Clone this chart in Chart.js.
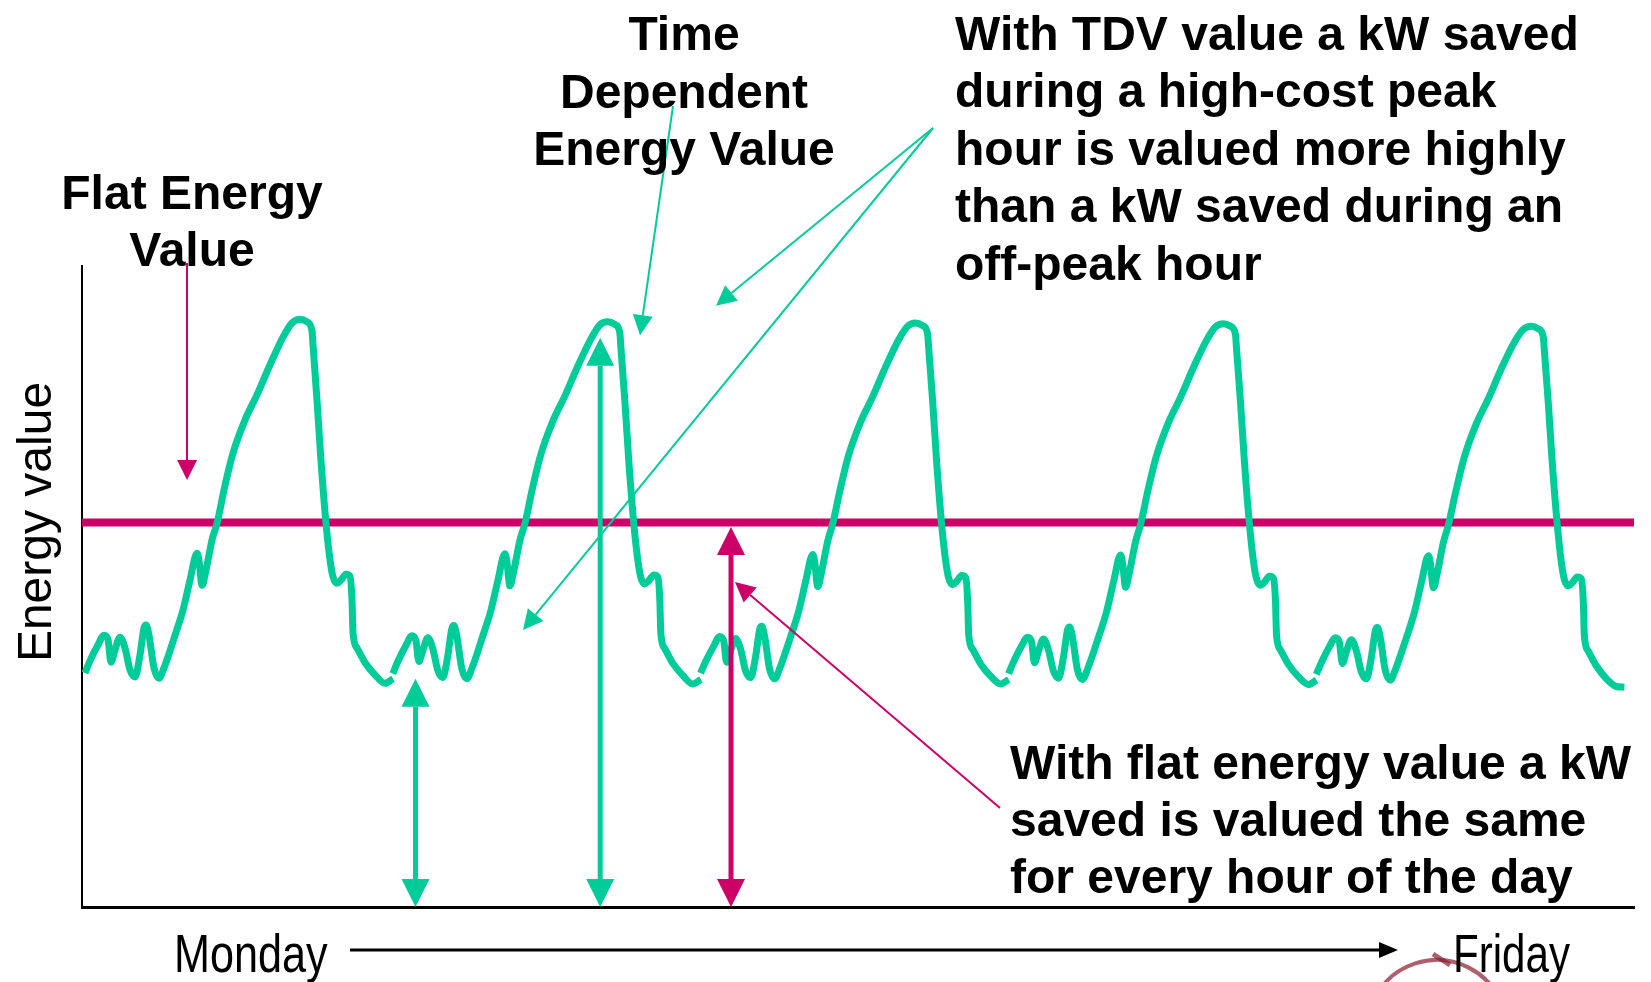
<!DOCTYPE html>
<html>
<head>
<meta charset="utf-8">
<script src="https://cdn.jsdelivr.net/npm/chart.js@4.4.0/dist/chart.umd.min.js"></script>
<style>
  html, body { margin: 0; padding: 0; background: #ffffff; }
  #wrap { width: 1651px; height: 982px; position: relative; }
</style>
</head>
<body>
<div id="wrap"><canvas id="c" width="1651" height="982"></canvas></div>
<script>
// ---------------- DATA ----------------
// hour-of-day sample positions (shared by all days)
const hourOfDay = [0.23,0.62,1.25,1.72,2.03,2.26,2.57,2.96,3.35,3.74,4.13,4.52,4.83,4.99,5.22,5.61,6.00,6.39,7.25,7.87,8.42,8.97,9.12,9.36,9.67,10.14,10.53,11.15,11.77,12.71,13.64,14.66,15.67,16.37,17.00,17.54,17.93,18.01,18.32,18.63,19.02,19.34,19.57,19.88,20.19,20.58,20.89,21.05,21.13,21.44,22.07,22.85,23.62,24.25];
const dayStart = [0, 24, 48, 72, 96];
const dayNames = ["Monday", "Friday"];
// time dependent energy value, one array per day
const tdvMonday    = [36.5,38.4,40.9,42.4,41.7,38.2,40.1,42.1,40.4,37.0,35.9,39.3,43.5,44.0,42.4,37.3,35.7,37.3,42.4,46.3,51.0,55.2,54.1,50.2,52.6,57.3,59.9,65.8,70.8,76.0,79.9,84.6,88.9,91.1,91.7,91.3,89.9,87.7,79.1,69.7,59.9,54.1,51.5,50.5,51.0,51.9,51.6,47.9,42.7,40.4,38.1,36.2,34.9,35.6];
const tdvTuesday   = [36.4,38.3,40.8,42.3,41.6,38.3,40.0,42.0,40.3,36.9,35.8,39.2,43.4,43.9,42.3,37.2,35.6,37.2,42.3,46.2,50.9,55.1,54.0,50.1,52.5,57.2,59.8,65.6,70.6,75.8,79.7,84.4,88.6,90.8,91.3,90.9,89.6,87.4,79.0,69.6,59.8,54.0,51.4,50.4,50.9,51.8,51.5,47.8,42.6,40.3,38.0,36.1,34.8,35.5];
const tdvWednesday = [36.5,38.3,40.7,42.2,41.5,38.2,40.0,41.9,40.2,36.8,35.8,39.1,43.3,43.8,42.2,37.1,35.6,37.2,42.2,46.1,50.8,55.0,53.9,50.0,52.4,57.1,59.8,65.5,70.5,75.7,79.6,84.3,88.5,90.6,91.1,90.7,89.4,87.2,78.9,69.5,59.7,53.9,51.3,50.3,50.8,51.7,51.4,47.7,42.5,40.2,37.9,36.0,34.8,35.5];
const tdvThursday  = [36.4,38.2,40.7,42.1,41.4,38.1,39.9,41.8,40.1,36.8,35.7,39.0,43.2,43.7,42.1,37.0,35.5,37.1,42.1,46.0,50.7,54.9,53.8,49.9,52.3,57.0,59.7,65.4,70.4,75.6,79.5,84.2,88.4,90.5,91.0,90.6,89.3,87.1,78.8,69.4,59.7,53.8,51.2,50.2,50.7,51.6,51.3,47.6,42.4,40.1,37.8,35.9,34.7,35.4];
const tdvFriday    = [36.3,38.1,40.6,42.0,41.3,38.0,39.8,41.7,40.0,36.7,35.6,38.9,43.1,43.6,42.0,36.9,35.4,37.0,42.0,45.9,50.6,54.8,53.7,49.8,52.2,56.9,59.6,65.2,70.2,75.4,79.3,84.0,88.1,90.1,90.6,90.2,88.9,86.8,78.6,69.2,59.6,53.7,51.1,50.1,50.6,51.5,51.2,47.5,42.3,39.9,37.6,35.6,34.4,34.3];
const tdvDays = [tdvMonday, tdvTuesday, tdvWednesday, tdvThursday, tdvFriday];
// flat energy value
const flatValue = 60;
const xRange = [0, 121];
const yRange = [0, 100];
// values marked by the double-headed arrows: [hour, value]
const offPeakMark = [26.0, 35.6];
const peakMark    = [40.4, 88.8];
const flatMark    = [50.6, 59.3];

// ---------------- STYLE ----------------
const GREEN = '#00CC99';
const MAGENTA = '#CC0066';
const BOLD = 'bold 48px "Liberation Sans", Arial, sans-serif';

const datasets = tdvDays.map((vals, d) => ({
  label: 'TDV day ' + (d + 1),
  data: hourOfDay.map((h, i) => ({ x: h + dayStart[d], y: vals[i] })),
  borderColor: GREEN,
  borderWidth: 7,
  pointRadius: 0,
  fill: false,
  cubicInterpolationMode: 'monotone',
  borderCapStyle: 'butt',
  borderJoinStyle: 'round'
}));
datasets.push({
  label: 'Flat',
  data: [{ x: xRange[0], y: flatValue }, { x: xRange[1], y: flatValue }],
  borderColor: MAGENTA,
  borderWidth: 8,
  pointRadius: 0,
  fill: false,
  tension: 0
});

function head(ctx, sx, sy, tx, ty, len, hw, color) {
  const a = Math.atan2(ty - sy, tx - sx);
  const bx = tx - len * Math.cos(a), by = ty - len * Math.sin(a);
  ctx.fillStyle = color;
  ctx.beginPath();
  ctx.moveTo(tx, ty);
  ctx.lineTo(bx + hw * Math.sin(a), by - hw * Math.cos(a));
  ctx.lineTo(bx - hw * Math.sin(a), by + hw * Math.cos(a));
  ctx.closePath();
  ctx.fill();
  return [bx, by];
}
function arrow(ctx, sx, sy, tx, ty, w, len, hw, color) {
  const b = head(ctx, sx, sy, tx, ty, len, hw, color);
  ctx.strokeStyle = color; ctx.lineWidth = w; ctx.lineCap = 'butt';
  ctx.beginPath(); ctx.moveTo(sx, sy); ctx.lineTo(b[0], b[1]); ctx.stroke();
}
function dblArrow(ctx, x, y0, y1, color) {
  const b1 = head(ctx, x, y1, x, y0, 28, 14, color);
  const b2 = head(ctx, x, y0, x, y1, 28, 14, color);
  ctx.strokeStyle = color; ctx.lineWidth = 5; ctx.lineCap = 'butt';
  ctx.beginPath(); ctx.moveTo(b1[0], b1[1]); ctx.lineTo(b2[0], b2[1]); ctx.stroke();
}
function condensed(ctx, text, x, y, scale) {
  ctx.save(); ctx.translate(x, y); ctx.scale(scale, 1);
  ctx.fillText(text, 0, 0); ctx.restore();
}

const annot = {
  id: 'annot',
  afterDatasetsDraw(chart) {
    const ctx = chart.ctx, xs = chart.scales.x, ys = chart.scales.y;
    const px = v => xs.getPixelForValue(v), py = v => ys.getPixelForValue(v);
    ctx.save();
    // double-headed value arrows
    dblArrow(ctx, px(offPeakMark[0]), py(0), py(offPeakMark[1]), GREEN);
    dblArrow(ctx, px(peakMark[0]), py(0), py(peakMark[1]), GREEN);
    dblArrow(ctx, px(flatMark[0]), py(0), py(flatMark[1]), MAGENTA);
    // pointer arrows
    arrow(ctx, 187, 263, px(8.19), py(66.6), 2, 20, 10, MAGENTA);
    arrow(ctx, 673, 106, px(43.5), py(89.2), 2, 20, 10, GREEN);
    arrow(ctx, 933, 128, px(49.43), py(93.8), 2, 20, 10, GREEN);
    arrow(ctx, 933, 128, px(34.38), py(43.2), 2, 20, 10, GREEN);
    arrow(ctx, 1000, 808, px(50.91), py(50.7), 2, 20, 10, MAGENTA);

    // texts
    ctx.fillStyle = '#000';
    ctx.font = BOLD;
    ctx.textBaseline = 'alphabetic';
    ctx.textAlign = 'center';
    ctx.fillText('Flat Energy', 192, 209);
    ctx.fillText('Value', 192, 266);
    ctx.fillText('Time', 684, 50);
    ctx.fillText('Dependent', 684, 108);
    ctx.fillText('Energy Value', 684, 165);
    ctx.textAlign = 'left';
    const tdvLines = ['With TDV value a kW saved', 'during a high-cost peak', 'hour is valued more highly', 'than a kW saved during an', 'off-peak hour'];
    tdvLines.forEach((t, i) => ctx.fillText(t, 955, 50 + i * 57.4));
    const flatLines = ['With flat energy value a kW', 'saved is valued the same', 'for every hour of the day'];
    flatLines.forEach((t, i) => ctx.fillText(t, 1010, 779 + i * 57));

    // y-axis title
    ctx.font = '48px "Liberation Sans", Arial, sans-serif';
    ctx.save(); ctx.translate(51, 522); ctx.rotate(-Math.PI / 2);
    ctx.textAlign = 'center'; ctx.fillText('Energy value', 0, 0); ctx.restore();

    // logo fragment (behind Friday)
    ctx.strokeStyle = 'rgba(140,25,45,0.7)'; ctx.lineWidth = 4;
    ctx.beginPath(); ctx.arc(1437, 1030, 70, Math.PI * 1.15, Math.PI * 1.85); ctx.stroke();
    ctx.lineWidth = 5; ctx.beginPath(); ctx.moveTo(1433, 954); ctx.lineTo(1450, 965); ctx.stroke();

    // Monday -> Friday
    ctx.fillStyle = '#000';
    ctx.font = '54px "Liberation Sans", Arial, sans-serif';
    ctx.textAlign = 'left';
    condensed(ctx, dayNames[0], 174, 972, 0.80);
    condensed(ctx, dayNames[1], 1453, 972, 0.78);
    arrow(ctx, 350, 950, 1398, 950, 3, 19, 8, '#000');
    ctx.restore();
  }
};

new Chart(document.getElementById('c'), {
  type: 'line',
  data: { datasets },
  options: {
    responsive: false,
    animation: false,
    layout: { padding: { left: 82, top: 266, right: 17, bottom: 75 } },
    plugins: { legend: { display: false }, tooltip: { enabled: false } },
    scales: {
      x: {
        type: 'linear', min: xRange[0], max: xRange[1],
        ticks: { display: false },
        grid: { display: false, drawTicks: false },
        border: { display: true, color: '#000', width: 3 }
      },
      y: {
        type: 'linear', min: yRange[0], max: yRange[1],
        ticks: { display: false },
        grid: { display: false, drawTicks: false },
        border: { display: true, color: '#000', width: 2 }
      }
    }
  },
  plugins: [annot]
});
</script>
</body>
</html>
